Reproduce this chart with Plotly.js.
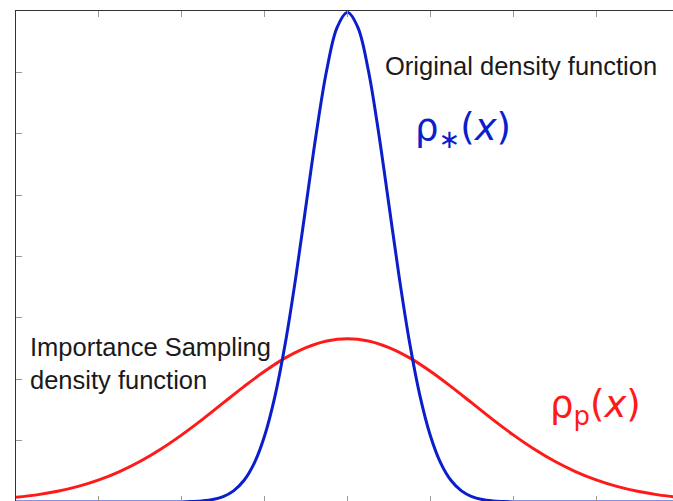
<!DOCTYPE html>
<html>
<head>
<meta charset="utf-8">
<script src="https://cdn.plot.ly/plotly-3.0.1.min.js"></script>
<style>
html, body { margin: 0; padding: 0; overflow: hidden; background: #fff; }
#chart { width: 690px; height: 515px; }
</style>
</head>
<body>
<div id="chart"></div>
<script>
// Original density function (blue)
const blueX = [-8, -6, -4, -3.75, -3.5, -3.25, -3, -2.75, -2.5, -2.25, -2, -1.75, -1.5, -1.25, -1, -0.75, -0.5, -0.25, 0,
               0.25, 0.5, 0.75, 1, 1.25, 1.5, 1.75, 2, 2.25, 2.5, 2.75, 3, 3.25, 3.5, 3.75, 4, 6, 8];
const blueY = [0, 0, 0.0001, 0.0004, 0.0009, 0.0020, 0.0044, 0.0091, 0.0175, 0.0317, 0.0540, 0.0863, 0.1295, 0.1826, 0.2420, 0.3011, 0.3521, 0.3867, 0.3989,
               0.3867, 0.3521, 0.3011, 0.2420, 0.1826, 0.1295, 0.0863, 0.0540, 0.0317, 0.0175, 0.0091, 0.0044, 0.0020, 0.0009, 0.0004, 0.0001, 0, 0];

// Importance sampling density function (red)
const redX = [-8, -7.5, -7, -6.5, -6, -5.5, -5, -4.5, -4, -3.5, -3, -2.5, -2, -1.5, -1, -0.5, 0,
              0.5, 1, 1.5, 2, 2.5, 3, 3.5, 4, 4.5, 5, 5.5, 6, 6.5, 7, 7.5, 8];
const redY = [0.0038, 0.0058, 0.0087, 0.0127, 0.0180, 0.0248, 0.0332, 0.0432, 0.0547, 0.0673, 0.0807, 0.0940, 0.1065, 0.1174, 0.1258, 0.1312, 0.1330,
              0.1312, 0.1258, 0.1174, 0.1065, 0.0940, 0.0807, 0.0673, 0.0547, 0.0432, 0.0332, 0.0248, 0.0180, 0.0127, 0.0087, 0.0058, 0.0038];

const labelOriginal = "Original density function";
const labelRhoStar = "ρ<sub>∗</sub>(<i>x</i>)";
const labelImportance = "Importance Sampling<br>density function";
const labelRhoP = "ρ<sub>p</sub>(<i>x</i>)";

const font = "Liberation Sans, Arial, Helvetica, sans-serif";

const traces = [
  { x: redX, y: redY, type: 'scatter', mode: 'lines',
    line: { color: '#ff1a1a', width: 3, shape: 'spline', smoothing: 1 }, hoverinfo: 'skip' },
  { x: blueX, y: blueY, type: 'scatter', mode: 'lines',
    line: { color: '#0a1ecc', width: 3, shape: 'spline', smoothing: 1 }, hoverinfo: 'skip' }
];

const axisCommon = {
  showline: true, linecolor: '#333', linewidth: 1, mirror: 'ticks',
  ticks: 'inside', ticklen: 6, tickcolor: '#999', tickwidth: 1,
  showticklabels: false, showgrid: false, zeroline: false, fixedrange: true
};

const layout = {
  width: 690, height: 515,
  margin: { l: 16, r: 11, t: 11, b: 13 },
  paper_bgcolor: '#fff', plot_bgcolor: '#fff',
  showlegend: false,
  xaxis: Object.assign({}, axisCommon, { range: [-8, 8], dtick: 2, tick0: 0 }),
  yaxis: Object.assign({}, axisCommon, { range: [0, 0.4], dtick: 0.05, tick0: 0 }),
  annotations: [
    { x: 4.18, y: 0.355, xref: 'x', yref: 'y', text: labelOriginal, showarrow: false,
      font: { family: font, size: 25.5, color: '#1a1a1a' } },
    { x: 2.78, y: 0.303, xref: 'x', yref: 'y', text: labelRhoStar, showarrow: false,
      font: { family: "DejaVu Sans, sans-serif", size: 37, color: '#0a1ecc' } },
    { x: -7.7, y: 0.113, xref: 'x', yref: 'y', xanchor: 'left', align: 'left', text: labelImportance, showarrow: false,
      font: { family: font, size: 25.5, color: '#1a1a1a' } },
    { x: 5.99, y: 0.077, xref: 'x', yref: 'y', text: labelRhoP, showarrow: false,
      font: { family: "DejaVu Sans, sans-serif", size: 37, color: '#ff1a1a' } }
  ]
};

Plotly.newPlot('chart', traces, layout, { staticPlot: true, displayModeBar: false });
</script>
</body>
</html>
